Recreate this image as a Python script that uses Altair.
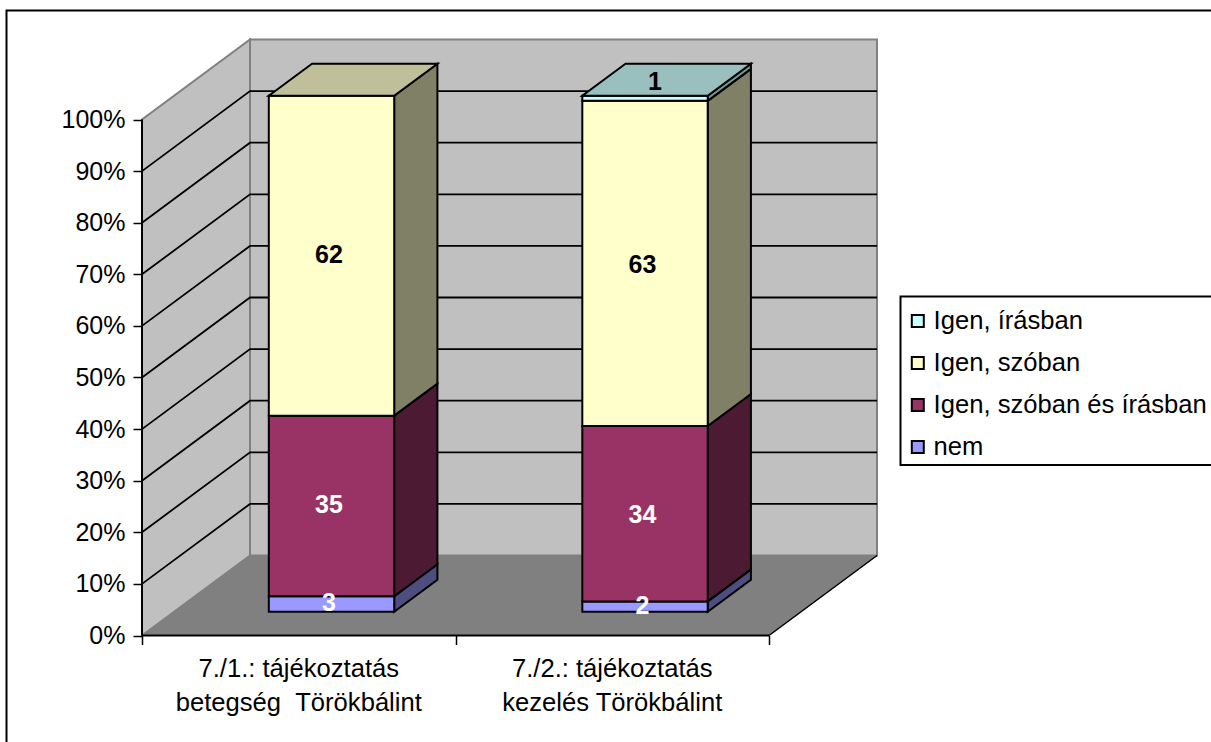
import altair as alt
import pandas as pd

# Chart content
CATEGORIES = ["7./1.: tájékoztatás\nbetegség \u00a0Törökbálint", "7./2.: tájékoztatás\nkezelés Törökbálint"]
SERIES = ["nem", "Igen, szóban és írásban", "Igen, szóban", "Igen, írásban"]
VALUES = {
    "nem": [3, 2],
    "Igen, szóban és írásban": [35, 34],
    "Igen, szóban": [62, 63],
    "Igen, írásban": [0, 1],
}
FRONT_COLORS = {
    "nem": "#9999FF",
    "Igen, szóban és írásban": "#993366",
    "Igen, szóban": "#FFFFCC",
    "Igen, írásban": "#CCFFFF",
}
SIDE_COLORS = {
    "nem": "#4D4D80",
    "Igen, szóban és írásban": "#4D1A33",
    "Igen, szóban": "#808066",
    "Igen, írásban": "#739999",
}
TOP_COLORS = {"Igen, szóban": "#BFBF99", "Igen, írásban": "#99BFBF"}
LABEL_COLORS = {
    "nem": "#FFFFFF",
    "Igen, szóban és írásban": "#FFFFFF",
    "Igen, szóban": "#000000",
    "Igen, írásban": "#000000",
}
TICKS = list(range(0, 101, 10))

FONT = "Liberation Sans"
TICK_FONT_SIZE = 25
TEXT_FONT_SIZE = 25.6
VALUE_FONT_SIZE = 25

# Oblique projection: depth 0 is the front of the box, depth 1 the back wall.
# x is measured in categories, y in percent.
SHIFT_X = 0.3445
SHIFT_Y = 15.5
BAR_WIDTH = 0.4
BAR_NUDGE = 0.002
BAR_FRONT = 0.2975
BAR_BACK = 0.6975


def px(cat, depth):
    return cat + depth * SHIFT_X


def py(pct, depth):
    return pct + depth * SHIFT_Y


x_scale = alt.Scale(domain=[-142 / 313.5, (1211 - 142) / 313.5], nice=False, zero=False)
y_scale = alt.Scale(domain=[-(742 - 635.5) / 5.16, 635.5 / 5.16], nice=False, zero=False)

x_axis = alt.Axis(values=[0, 1, 2], labels=False, title=None, domain=False, grid=False,
                  ticks=True, tickSize=9, tickColor="black", tickWidth=1.5,
                  orient="bottom", offset=-106.5, zindex=1)
y_axis = alt.Axis(values=TICKS, title=None, domain=False, grid=False, ticks=True,
                  tickSize=9, tickColor="black", tickWidth=1.5, labelExpr="datum.value + '%'",
                  labelFont=FONT, labelFontSize=TICK_FONT_SIZE, labelColor="black", labelPadding=8,
                  orient="left", offset=-142, zindex=1)

X = lambda f="x": alt.X(f"{f}:Q", scale=x_scale, axis=x_axis)
Y = lambda f="y": alt.Y(f"{f}:Q", scale=y_scale, axis=y_axis)

front, side, top, labels = [], [], [], []
for c in range(len(CATEGORIES)):
    left = c + 0.5 - BAR_WIDTH / 2 + BAR_NUDGE
    right = left + BAR_WIDTH
    base = 0
    top_series = None
    for s in SERIES:
        v = VALUES[s][c]
        if not v:
            continue
        low, high = base, base + v
        front.append({
            "x": px(left, BAR_FRONT), "x2": px(right, BAR_FRONT),
            "y": py(low, BAR_FRONT), "y2": py(high, BAR_FRONT), "series": s,
        })
        for d in (BAR_FRONT, BAR_BACK):
            side.append({
                "key": f"{c}-{s}", "x": px(right, d),
                "y": py(low, d), "y2": py(high, d), "fill": SIDE_COLORS[s],
            })
        # The thin top segment carries its label on the top face of the bar
        on_top = v == 1
        label_depth = BAR_FRONT + 0.15 if on_top else BAR_FRONT
        label_x = px((left + right) / 2, label_depth) - (0.02 if on_top else 0.008)
        label_y = py(base + v / 2, label_depth) + (0.8 if on_top else 0.1)
        if c == 1 and not on_top and v > 2:
            label_y -= 0.4
        labels.append({"x": label_x, "y": label_y, "text": str(v), "color": LABEL_COLORS[s]})
        base = high
        top_series = s
    for d in (BAR_FRONT, BAR_BACK):
        top.append({
            "key": str(c), "y": py(base, d), "x": px(left, d), "x2": px(right, d),
            "fill": TOP_COLORS[top_series],
        })

n = len(CATEGORIES)
left_wall = pd.DataFrame([
    {"x": px(0, d), "y": py(0, d), "y2": py(100, d)} for d in (0, 1)
])
back_wall = pd.DataFrame([{"x": px(0, 1), "x2": px(n, 1), "y": py(0, 1), "y2": py(100, 1)}])
floor = pd.DataFrame([
    {"y": py(0, d), "x": px(0, d), "x2": px(n, d)} for d in (0, 1)
])
grid = pd.DataFrame([
    {"tick": t, "step": i, "x": x, "y": y}
    for t in TICKS[1:-1]
    for i, (x, y) in enumerate([(px(0, 0), py(t, 0)), (px(0, 1), py(t, 1)), (px(n, 1), py(t, 1))])
])
floor_edge = pd.DataFrame([{"x": px(n, d), "y": py(0, d)} for d in (0, 1)])
axis_y = pd.DataFrame([{"x": 0, "y": 0, "y2": 100}])
axis_x = pd.DataFrame([{"x": 0, "x2": n, "y": 0}])
cat_labels = pd.DataFrame([
    {"x": c + 0.5, "label": CATEGORIES[c].split("\n")} for c in range(n)
])

WALL = "#C0C0C0"
EDGE = "#808080"

# Outer chart border; it runs past the right and bottom of the page
border = alt.Chart(pd.DataFrame([{"k": 0}])).mark_rect(
    fill="white", stroke="black", strokeWidth=2
).encode(x=alt.value(6.5), x2=alt.value(1300), y=alt.value(10.5), y2=alt.value(800))

# Legend box, drawn apart from the legend so its margins can differ
legend_box = alt.Chart(pd.DataFrame([{"k": 0}])).mark_rect(
    fill="white", stroke="black", strokeWidth=2
).encode(x=alt.value(900.5), x2=alt.value(1300), y=alt.value(296.5), y2=alt.value(465))

left_wall_layer = alt.Chart(left_wall).mark_area(fill=WALL, stroke=EDGE, strokeWidth=2).encode(
    x=X(), y=Y(), y2="y2:Q"
)
back_wall_layer = alt.Chart(back_wall).mark_rect(fill=WALL, stroke=EDGE, strokeWidth=2).encode(
    x=X(), x2="x2:Q", y=Y(), y2="y2:Q",
)
floor_layer = alt.Chart(floor).mark_area(
    orient="horizontal", fill=EDGE, stroke=EDGE, strokeWidth=1
).encode(y=Y(), x=X(), x2="x2:Q")
grid_layer = alt.Chart(grid).mark_line(color="black", strokeWidth=1.8).encode(
    x=X(), y=Y(), detail="tick:Q", order="step:Q"
)
floor_edge_layer = alt.Chart(floor_edge).mark_line(color="black", strokeWidth=1.5).encode(x=X(), y=Y())
axis_y_layer = alt.Chart(axis_y).mark_rule(color="black", strokeWidth=2).encode(x=X(), y=Y(), y2="y2:Q")
axis_x_layer = alt.Chart(axis_x).mark_rule(color="black", strokeWidth=2).encode(x=X(), x2="x2:Q", y=Y())

side_layer = alt.Chart(pd.DataFrame(side)).mark_area(stroke="black", strokeWidth=2).encode(
    x=X(), y=Y(), y2="y2:Q", detail="key:N", fill=alt.Fill("fill:N", scale=None)
)
top_layer = alt.Chart(pd.DataFrame(top)).mark_area(
    orient="horizontal", stroke="black", strokeWidth=2
).encode(y=Y(), x=X(), x2="x2:Q", detail="key:N", fill=alt.Fill("fill:N", scale=None))

legend_order = SERIES[::-1]
front_layer = alt.Chart(pd.DataFrame(front)).mark_rect(stroke="black", strokeWidth=2).encode(
    x=X(), x2="x2:Q", y=Y(), y2="y2:Q",
    color=alt.Color(
        "series:N",
        scale=alt.Scale(domain=legend_order, range=[FRONT_COLORS[s] for s in legend_order]),
        legend=alt.Legend(
            orient="none", legendX=905, legendY=307.5, title=None, padding=0,
            symbolType="square", symbolSize=144, symbolStrokeColor="black", symbolStrokeWidth=2,
            labelFont=FONT, labelFontSize=TEXT_FONT_SIZE, labelColor="black", labelOffset=3,
            rowPadding=14, labelLimit=400, clipHeight=27,
        ),
    ),
)
label_layer = alt.Chart(pd.DataFrame(labels)).mark_text(
    font=FONT, fontSize=VALUE_FONT_SIZE, fontWeight="bold", baseline="middle"
).encode(x=X(), y=Y(), text="text:N", color=alt.Color("color:N", scale=None))
category_layer = alt.Chart(cat_labels).mark_text(
    font=FONT, fontSize=TEXT_FONT_SIZE, color="black", lineHeight=34, baseline="top"
).encode(x=X(), y=alt.value(657), text="label:N")

chart = alt.layer(
    border, left_wall_layer, back_wall_layer, floor_layer, grid_layer, floor_edge_layer,
    axis_y_layer, axis_x_layer, legend_box, side_layer, front_layer, top_layer, label_layer,
    category_layer,
).resolve_scale(color="independent", fill="independent").properties(
    width=1211, height=742, padding=0, autosize=alt.AutoSizeParams(type="none"), background="white",
).configure_view(stroke=None)

chart.save("out.html", embed_options={"renderer": "svg", "actions": False})
